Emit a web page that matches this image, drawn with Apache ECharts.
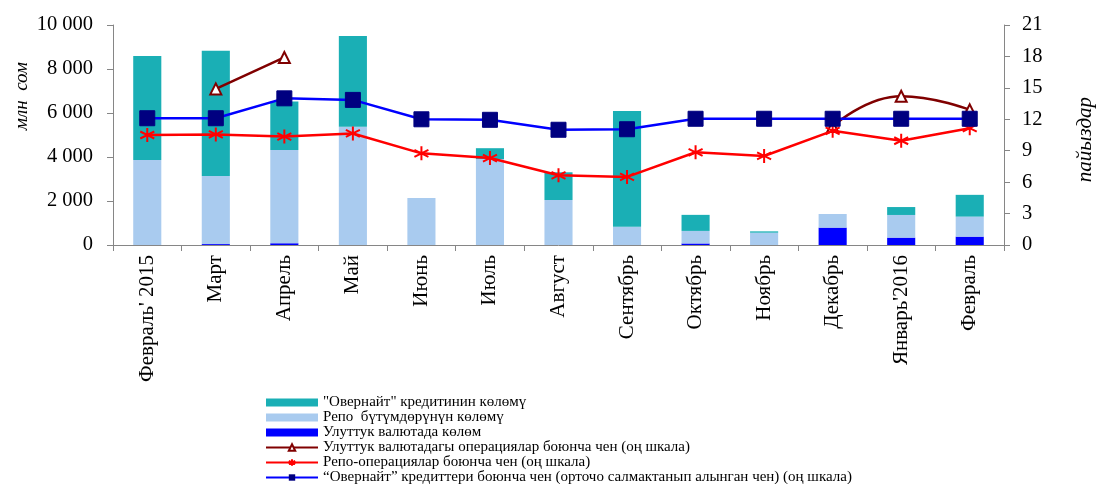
<!DOCTYPE html>
<html>
<head>
<meta charset="utf-8">
<script src="https://cdn.jsdelivr.net/npm/echarts@6/dist/echarts.min.js"></script>
<style>
html,body{margin:0;padding:0;background:#fff;}
#chart{width:1098px;height:484px;}
</style>
</head>
<body>
<div id="chart"></div>
<script>
const categories = ["Февраль' 2015","Март","Апрель","Май","Июнь","Июль","Август","Сентябрь","Октябрь","Ноябрь","Декабрь","Январь'2016","Февраль"];
const overnightVolume = [4730, 5690, 2200, 4120, 0, 490, 1260, 5260, 730, 60, 0, 360, 990];
const repoVolume = [3860, 3100, 4240, 5380, 2140, 3910, 2045, 830, 570, 560, 620, 1030, 910];
const nationalVolume = [0, 40, 80, 0, 0, 0, 0, 0, 70, 0, 790, 335, 380];
const nationalRate = [null, 14.9, 17.9, null, null, null, null, null, null, null, 11.3, 14.2, 12.9];
const repoRate = [10.5, 10.55, 10.35, 10.65, 8.75, 8.3, 6.65, 6.5, 8.85, 8.5, 10.9, 9.95, 11.15];
const overnightRate = [12.1, 12.1, 14.0, 13.85, 12.0, 11.95, 11.0, 11.05, 12.05, 12.05, 12.05, 12.05, 12.05];
const leftTicks = {min: 0, max: 10000, interval: 2000};
const rightTicks = {min: 0, max: 21, interval: 3};

const names = [
  '"Овернайт" кредитинин көлөмү',
  'Репо  бүтүмдөрүнүн көлөмү',
  'Улуттук валютада көлөм',
  'Улуттук валютадагы операциялар боюнча чен (оң шкала)',
  'Репо-операциялар боюнча чен (оң шкала)',
  '“Овернайт” кредиттери боюнча чен (орточо салмактанып алынган чен) (оң шкала)'
];

const font = '"Liberation Serif", "DejaVu Serif", serif';
const axisColor = '#868686';
const asterisk = 'path://M5,0L5,10M0.7,2.5L9.3,7.5M0.7,7.5L9.3,2.5';

const chart = echarts.init(document.getElementById('chart'), null, {renderer: 'canvas'});
chart.setOption({
  animation: false,
  backgroundColor: '#fff',
  textStyle: {fontFamily: font},
  grid: {left: 113, right: 94, top: 25, bottom: 239, containLabel: false},
  legend: {
    orient: 'vertical',
    left: 265,
    top: 395,
    width: 700,
    height: 150,
    itemWidth: 52,
    itemHeight: 8,
    itemGap: 0,
    padding: 0,
    textStyle: {fontFamily: font, fontSize: 15, color: '#000', lineHeight: 14.8, padding: [0,0,0,0]},
    data: [
      {name: names[0], icon: 'rect'},
      {name: names[1], icon: 'rect'},
      {name: names[2], icon: 'rect'},
      names[3], names[4], names[5]
    ]
  },
  xAxis: {
    type: 'category',
    data: categories,
    boundaryGap: true,
    axisLine: {lineStyle: {color: axisColor, width: 1}},
    axisTick: {show: true, alignWithLabel: false, length: 6, lineStyle: {color: axisColor}},
    axisLabel: {rotate: 90, fontFamily: font, fontSize: 21, color: '#000', margin: 10, interval: 0}
  },
  yAxis: [
    {
      type: 'value', min: leftTicks.min, max: leftTicks.max, interval: leftTicks.interval,
      axisLine: {show: true, lineStyle: {color: axisColor}},
      axisTick: {show: true, length: 6, lineStyle: {color: axisColor}},
      splitLine: {show: false},
      axisLabel: {fontFamily: font, fontSize: 20.5, color: '#000', margin: 20,
        formatter: v => String(v).replace(/\B(?=(\d{3})+(?!\d))/g, ' ')}
    },
    {
      type: 'value', min: rightTicks.min, max: rightTicks.max, interval: rightTicks.interval,
      position: 'right',
      axisLine: {show: true, lineStyle: {color: axisColor}},
      axisTick: {show: true, length: 6, lineStyle: {color: axisColor}},
      splitLine: {show: false},
      axisLabel: {fontFamily: font, fontSize: 20.5, color: '#000', margin: 18}
    }
  ],
  graphic: [
    {type: 'text', left: 12, top: 62, rotation: Math.PI/2, style: {text: 'млн  сом', font: 'italic 19px ' + font, fill: '#000'}},
    {type: 'text', right: 2, top: 97, rotation: Math.PI/2, style: {text: 'пайыздар', font: 'italic 21px ' + font, fill: '#000'}}
  ],
  series: [
    {name: names[2], type: 'bar', stack: 'vol', data: nationalVolume, barWidth: '41%', itemStyle: {color: '#0000FF'}},
    {name: names[1], type: 'bar', stack: 'vol', data: repoVolume, itemStyle: {color: '#A9CBEF'}},
    {name: names[0], type: 'bar', stack: 'vol', data: overnightVolume, itemStyle: {color: '#1AAFB5'}},
    {name: names[3], type: 'line', yAxisIndex: 1, data: nationalRate, smooth: 0.5, connectNulls: false,
      symbol: 'triangle', symbolSize: 11, lineStyle: {color: '#800000', width: 2.5},
      itemStyle: {color: '#fff', borderColor: '#800000', borderWidth: 2}, z: 3},
    {name: names[4], type: 'line', yAxisIndex: 1, data: repoRate,
      symbol: asterisk, symbolSize: 14, lineStyle: {color: '#FF0000', width: 2.5},
      itemStyle: {color: 'none', borderColor: '#FF0000', borderWidth: 2}, z: 4},
    {name: names[5], type: 'line', yAxisIndex: 1, data: overnightRate,
      symbol: 'rect', symbolSize: 15, lineStyle: {color: '#0000FF', width: 2.5},
      itemStyle: {color: '#000080', borderColor: '#000080'}, z: 5}
  ]
});
</script>
</body>
</html>
